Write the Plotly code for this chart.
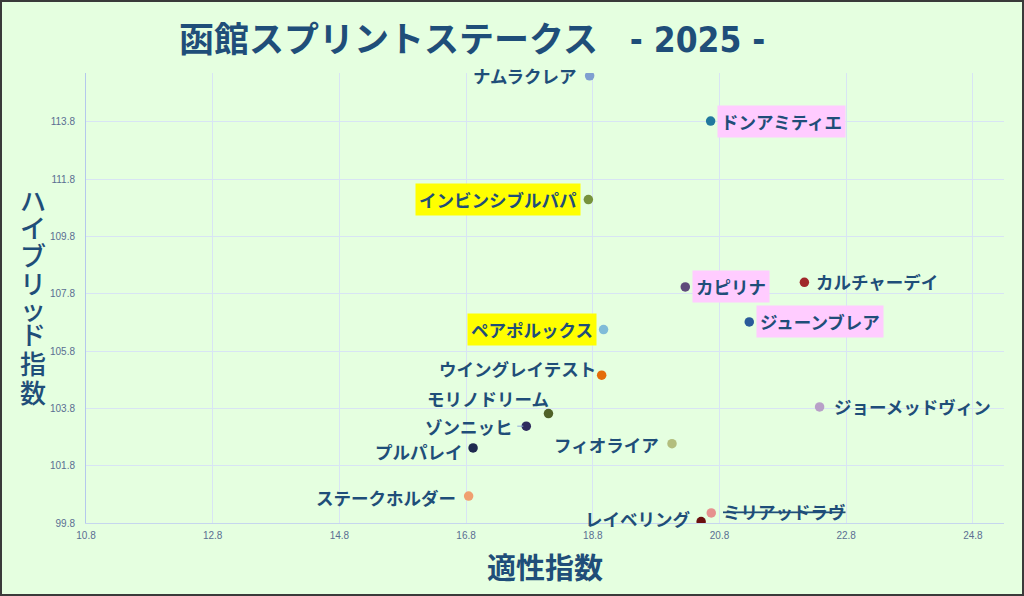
import plotly.graph_objects as go

# データ
horses = ['ナムラクレア', 'ドンアミティエ', 'インビンシブルパパ', 'カピリナ', 'カルチャーデイ',
          'ジューンブレア', 'ペアポルックス', 'ウイングレイテスト', 'モリノドリーム', 'ゾンニッヒ',
          'フィオライア', 'プルパレイ', 'ステークホルダー', 'レイベリング', 'ミリアッドラヴ',
          'ジョーメッドヴィン']
tekisei = [18.75, 20.66, 18.73, 20.26, 22.14, 21.27, 18.97, 18.94, 18.10, 17.75,
           20.05, 16.91, 16.84, 20.51, 20.67, 22.38]
hybrid = [115.41, 113.83, 111.09, 108.04, 108.20, 106.82, 106.55, 104.96, 103.62, 103.18,
          102.57, 102.42, 100.74, 99.85, 100.15, 103.85]
scratched = ['ミリアッドラヴ']
yellow_marks = ['インビンシブルパパ', 'ペアポルックス']
pink_marks = ['ドンアミティエ', 'カピリナ', 'ジューンブレア']
x_ticks = [10.8, 12.8, 14.8, 16.8, 18.8, 20.8, 22.8, 24.8]
y_ticks = [99.8, 101.8, 103.8, 105.8, 107.8, 109.8, 111.8, 113.8]

# 見た目
dot_colors = ['#7F9FD0', '#21789E', '#77933C', '#5F4B7B', '#A0282A', '#2A5A9A', '#80BCD8',
              '#E46C0A', '#4F6228', '#2E2A5E', '#B3BE7E', '#1F2A4F', '#F0A070', '#6B1010',
              '#E6908F', '#B8A0C8']
# (向き, xshift, yshift)
label_pos = {
    'ナムラクレア': ('left', -9, 0), 'ドンアミティエ': ('right', 6, 0),
    'インビンシブルパパ': ('left', -7, 0), 'カピリナ': ('right', 7, 0),
    'カルチャーデイ': ('right', 8, 1), 'ジューンブレア': ('right', 7, 0),
    'ペアポルックス': ('left', -7, 0), 'ウイングレイテスト': ('left', -2, 7),
    'モリノドリーム': ('left', 5, 15), 'ゾンニッヒ': ('left', 0, 0),
    'フィオライア': ('left', -9, -1), 'プルパレイ': ('left', -6, -4),
    'ステークホルダー': ('left', -9, -1), 'レイベリング': ('left', -6, 3),
    'ミリアッドラヴ': ('right', 8, 1), 'ジョーメッドヴィン': ('right', 10, 0),
}

NAVY = '#1F4E79'
BG = '#E5FFE0'
JP = 'Noto Sans CJK JP'
W, H = 1024, 596
L, R, T, B = 86, 20, 73, 73
pw, ph = W - L - R, H - T - B


def px(xp):
    return (xp - L) / pw


def py(yp):
    return 1 - (yp - T) / ph


fig = go.Figure()
fig.add_trace(go.Scatter(
    x=tekisei, y=hybrid, mode='markers',
    marker=dict(size=9.5, color=dot_colors),
    hovertext=horses, hoverinfo='text', showlegend=False,
))

annotations = []
for name, xv, yv in zip(horses, tekisei, hybrid):
    side, dx, dy = label_pos[name]
    text = f'<s>{name}</s>' if name in scratched else name
    bg = '#FFFF00' if name in yellow_marks else ('#FFCCFF' if name in pink_marks else None)
    a = dict(x=xv, y=yv, xref='x', yref='y', text=text, showarrow=False,
             xanchor='left' if side == 'right' else 'right', yanchor='middle',
             xshift=dx, yshift=dy, borderpad=3,
             font=dict(family=JP, size=17.5, color=NAVY, weight='bold'))
    if bg:
        a['bgcolor'] = bg
    if name == 'ゾンニッヒ':
        a.update(showarrow=True, ax=-9, ay=0, arrowhead=0, arrowwidth=1,
                 arrowcolor='#8FA8DC', standoff=3, xshift=0)
    annotations.append(a)

# タイトル
annotations.append(dict(
    xref='paper', yref='paper', x=px(177), y=py(37), xanchor='left', yanchor='middle',
    showarrow=False,
    text="函館スプリントステークス\u00a0\u00a0\u00a0\u00a0<span style='font-family:DejaVu Sans Condensed, Roboto'>- 2025 -</span>",
    font=dict(family=JP, size=35, color=NAVY, weight='bold'),
))
# 軸タイトル
annotations.append(dict(
    xref='paper', yref='paper', x=px(545), y=py(566), xanchor='center', yanchor='middle',
    showarrow=False, text='適性指数', font=dict(family=JP, size=29, color=NAVY, weight='bold'),
))
y_title = 'ハイブリッド指数'
y_centers = [200, 226, 254, 282, 308, 333, 362, 391]
for ch, yc in zip(y_title, y_centers):
    annotations.append(dict(
        xref='paper', yref='paper', x=px(33), y=py(yc), xanchor='center', yanchor='middle',
        showarrow=False, text=ch, font=dict(family=JP, size=26, color=NAVY, weight=500),
    ))

fig.update_layout(
    width=W, height=H,
    margin=dict(l=L, r=R, t=T, b=B, pad=0),
    paper_bgcolor=BG, plot_bgcolor=BG,
    annotations=annotations,
    xaxis=dict(range=[10.8, 10.8 + pw / 63.35], tickvals=x_ticks,
               ticktext=[f'{v:.1f}' for v in x_ticks], showgrid=True,
               gridcolor='#D8E4F4', gridwidth=1, zeroline=False, showline=True,
               linecolor='#C6D6EE', linewidth=1, ticks='', ticklabelstandoff=3,
               tickfont=dict(family='Liberation Sans Narrow, Arial', size=10, color='#5A6E92')),
    yaxis=dict(range=[99.8, 99.8 + ph / 28.65], tickvals=y_ticks,
               ticktext=[f'{v:.1f}' for v in y_ticks], showgrid=True,
               gridcolor='#D8E4F4', gridwidth=1, zeroline=False, showline=True,
               linecolor='#B4C8EC', linewidth=1, ticks='', ticklabelstandoff=8,
               tickfont=dict(family='Liberation Sans Narrow, Arial', size=10, color='#5A6E92')),
    shapes=[dict(type='rect', xref='paper', yref='paper',
                 x0=px(0), x1=px(W), y0=py(H), y1=py(0),
                 line=dict(color='#3A3A3A', width=4), fillcolor='rgba(0,0,0,0)', layer='above')],
)

fig.write_html('out.html', config={'displayModeBar': False},
               post_script="document.body.style.margin='0';document.body.style.overflow='hidden';")
